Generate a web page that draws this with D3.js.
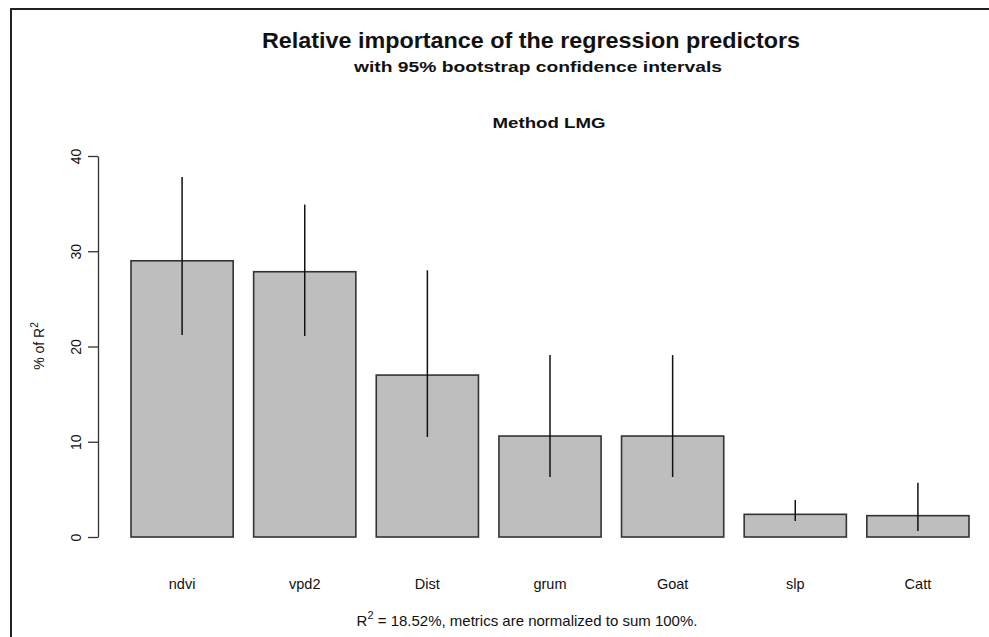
<!DOCTYPE html>
<html>
<head>
<meta charset="utf-8">
<title>Relative importance</title>
<script src="https://cdnjs.cloudflare.com/ajax/libs/d3/7.8.5/d3.min.js"></script>
<style>
  body { margin: 0; background: #fff; }
  text { font-family: "Liberation Sans", Arial, sans-serif; fill: #111; }
</style>
</head>
<body>
<script>
var predictors = ["ndvi", "vpd2", "Dist", "grum", "Goat", "slp", "Catt"];
var lmg   = [29.0, 27.85, 17.0, 10.6, 10.6, 2.38, 2.24];
var lower = [21.2, 21.1, 10.5, 6.3, 6.3, 1.68, 0.63];
var upper = [37.8, 34.9, 28.0, 19.1, 19.1, 3.88, 5.7];
var yTicks = [0, 10, 20, 30, 40];

var width = 989, height = 637;

var svg = d3.select("body").append("svg")
    .attr("width", width)
    .attr("height", height);

// frame (only top + left edges are visible in the crop)
svg.append("path")
    .attr("d", "M11," + height + "V9H" + width)
    .attr("fill", "none")
    .attr("stroke", "#222")
    .attr("stroke-width", 2);

var x = d3.scaleBand()
    .domain(predictors)
    .range([131, 969])
    .paddingInner(0.2 / 1.2)
    .paddingOuter(0);

var y = d3.scaleLinear()
    .domain([0, 40])
    .range([537, 156]);

// bars
svg.append("g").selectAll("rect")
    .data(predictors)
    .join("rect")
    .attr("x", d => x(d))
    .attr("y", (d, i) => y(lmg[i]))
    .attr("width", x.bandwidth())
    .attr("height", (d, i) => y(0) - y(lmg[i]))
    .attr("fill", "#bebebe")
    .attr("stroke", "#333")
    .attr("stroke-width", 1.6);

// confidence intervals
svg.append("g").selectAll("line")
    .data(predictors)
    .join("line")
    .attr("x1", d => x(d) + x.bandwidth() / 2)
    .attr("x2", d => x(d) + x.bandwidth() / 2)
    .attr("y1", (d, i) => y(lower[i]))
    .attr("y2", (d, i) => y(upper[i]))
    .attr("stroke", "#111")
    .attr("stroke-width", 1.5);

// y axis
var yAxis = svg.append("g")
    .attr("transform", "translate(98,0)")
    .call(d3.axisLeft(y).tickValues(yTicks).tickSize(10).tickSizeOuter(0));
yAxis.select(".domain").attr("stroke", "#333").attr("stroke-width", 1.3);
yAxis.selectAll(".tick line").attr("stroke", "#333").attr("stroke-width", 1.3);
yAxis.selectAll(".tick text")
    .attr("x", null).attr("dy", null)
    .attr("transform", "translate(-21,0) rotate(-90)")
    .attr("text-anchor", "middle")
    .attr("dominant-baseline", "middle")
    .style("font-size", "14px")
    .style("font-family", "'Liberation Sans', Arial, sans-serif");

// category labels
svg.append("g").selectAll("text")
    .data(predictors)
    .join("text")
    .attr("x", d => x(d) + x.bandwidth() / 2)
    .attr("y", 589)
    .attr("text-anchor", "middle")
    .style("font-size", "14.5px")
    .text(d => d);

// y label
var ylab = svg.append("text")
    .attr("transform", "translate(44,346) rotate(-90)")
    .attr("text-anchor", "middle")
    .style("font-size", "14px");
ylab.append("tspan").text("% of R");
ylab.append("tspan").attr("dy", -6).style("font-size", "10px").text("2");

// titles
svg.append("text")
    .attr("x", 531).attr("y", 48)
    .attr("text-anchor", "middle")
    .attr("textLength", 538).attr("lengthAdjust", "spacingAndGlyphs")
    .style("font-size", "22px").style("font-weight", "bold")
    .text("Relative importance of the regression predictors");

svg.append("text")
    .attr("x", 538).attr("y", 72)
    .attr("text-anchor", "middle")
    .attr("textLength", 368).attr("lengthAdjust", "spacingAndGlyphs")
    .style("font-size", "15px").style("font-weight", "bold")
    .text("with 95% bootstrap confidence intervals");

svg.append("text")
    .attr("x", 549).attr("y", 128)
    .attr("text-anchor", "middle")
    .attr("textLength", 113).attr("lengthAdjust", "spacingAndGlyphs")
    .style("font-size", "15px").style("font-weight", "bold")
    .text("Method LMG");

// footer
var foot = svg.append("text")
    .attr("x", 527).attr("y", 626)
    .attr("text-anchor", "middle")
    .style("font-size", "15px");
foot.append("tspan").text("R");
foot.append("tspan").attr("dy", -7).style("font-size", "11px").text("2");
foot.append("tspan").attr("dy", 7).text(" = 18.52%, metrics are normalized to sum 100%.");
</script>
</body>
</html>
